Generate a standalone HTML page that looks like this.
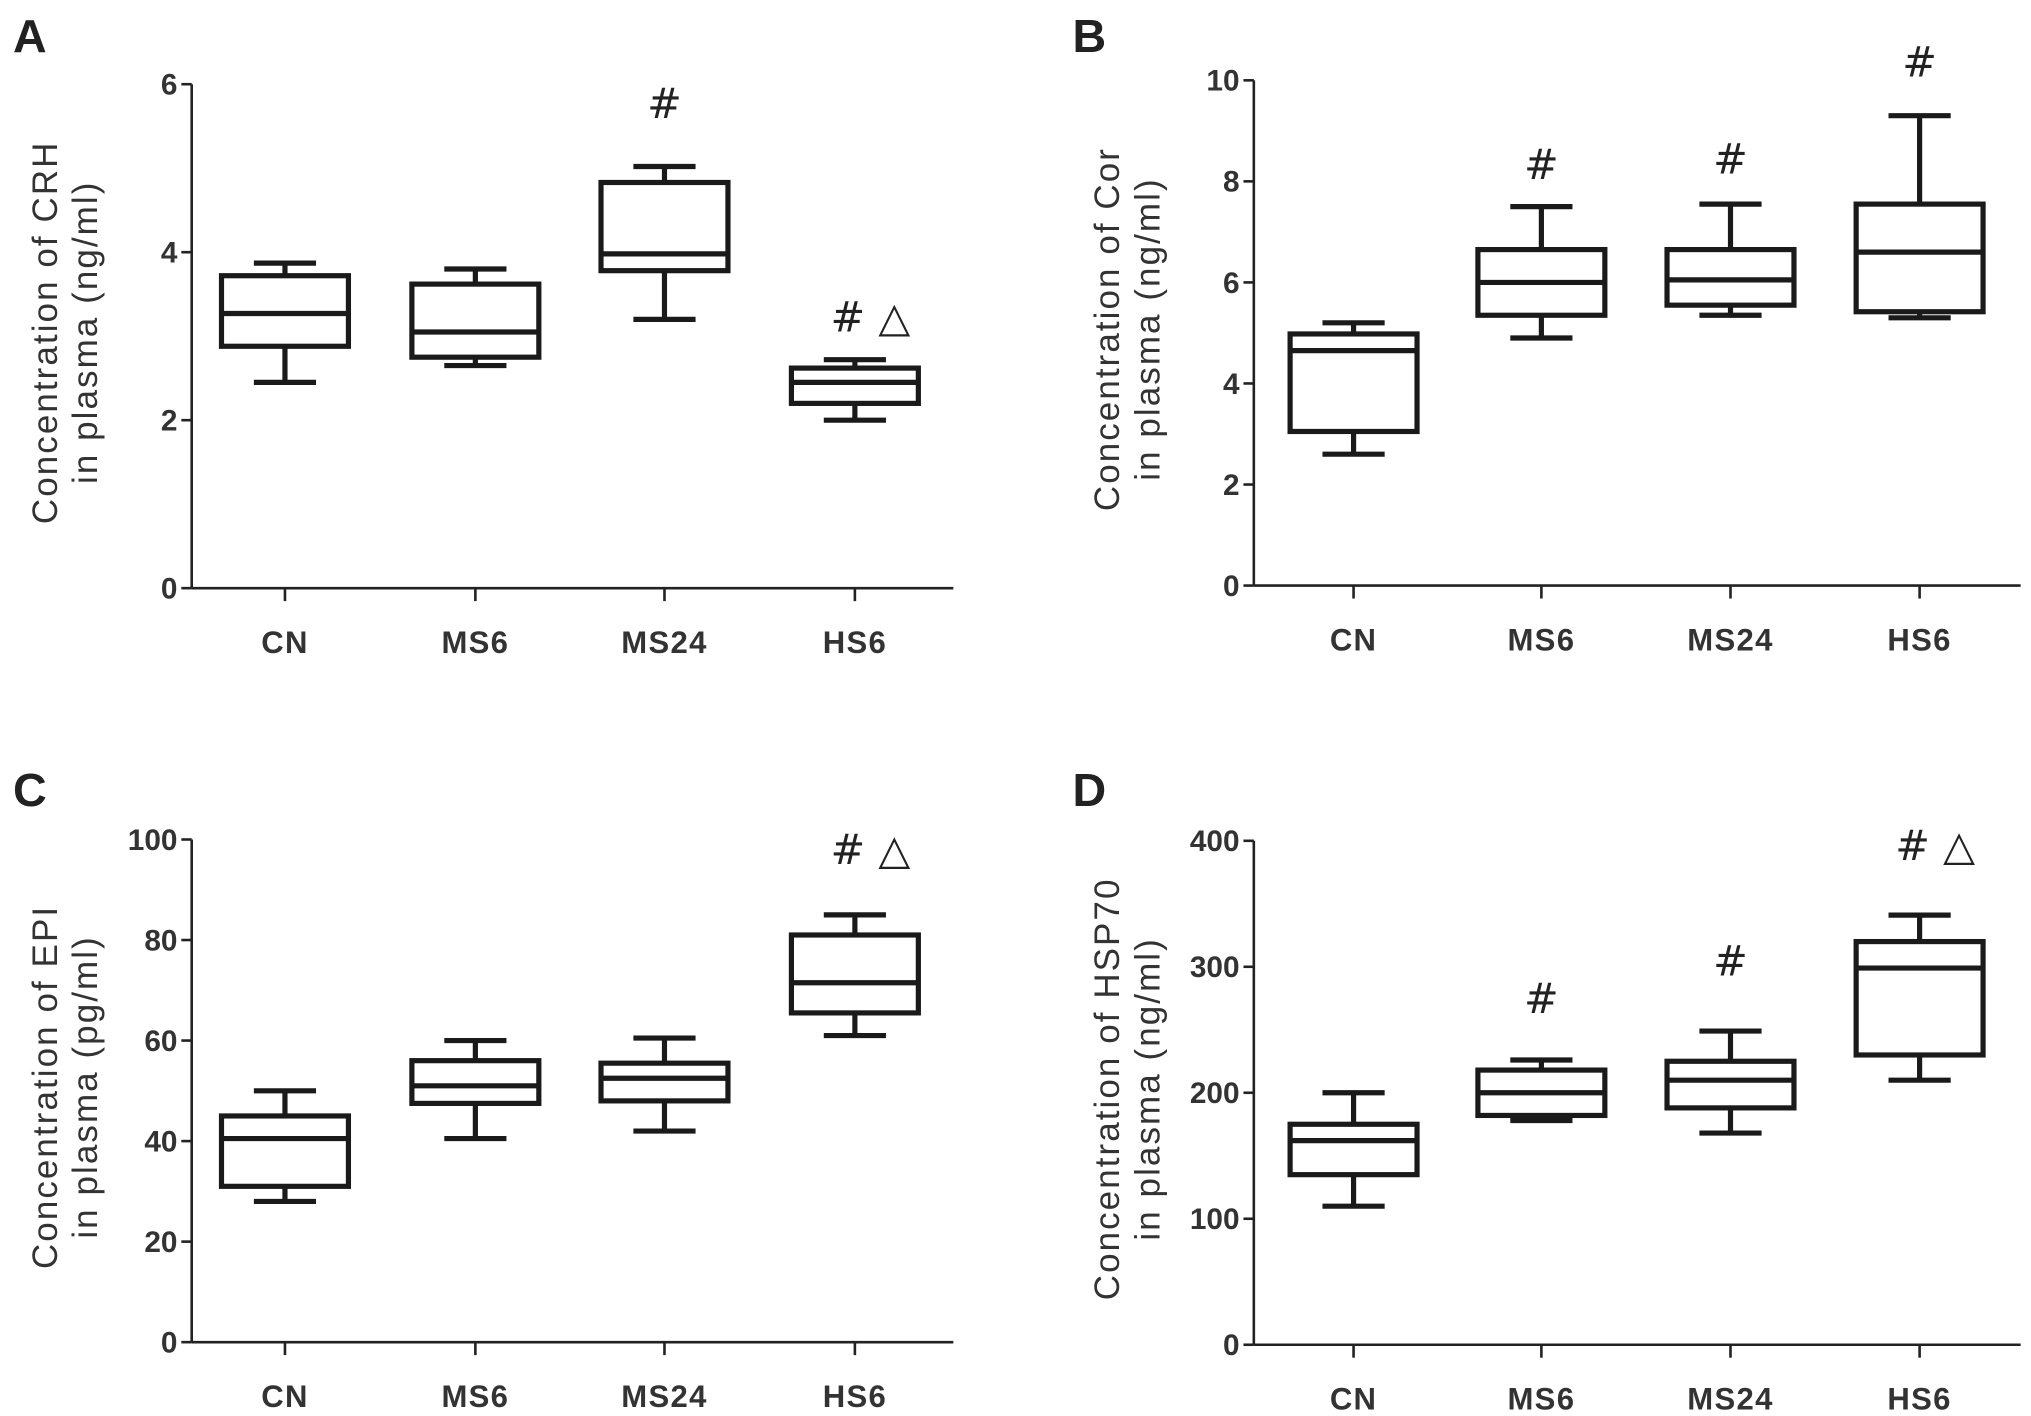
<!DOCTYPE html>
<html><head><meta charset="utf-8"><style>
html,body{margin:0;padding:0;background:#fff;}
svg{display:block;font-family:"Liberation Sans",Arial,sans-serif;}
</style></head><body>
<svg id="fig" width="2031" height="1416" viewBox="0 0 1568 1093" preserveAspectRatio="none" xmlns="http://www.w3.org/2000/svg"></svg>
<script>
const categories = ["CN","MS6","MS24","HS6"];
// [whiskerLow, q1, median, q3, whiskerHigh]
const crhValues = [[2.45,2.88,3.27,3.72,3.87],[2.65,2.75,3.05,3.62,3.8],[3.2,3.78,3.98,4.83,5.02],[2.0,2.2,2.45,2.62,2.72]];
const corValues = [[2.6,3.05,4.65,4.98,5.2],[4.9,5.35,6.0,6.65,7.5],[5.35,5.55,6.05,6.65,7.55],[5.3,5.42,6.6,7.55,9.3]];
const epiValues = [[28,31,40.5,45,50],[40.5,47.5,51,56,60],[42,48,52.5,55.5,60.5],[61,65.5,71.5,81,85]];
const hspValues = [[110,135,162,175,200],[178,182,200,218,226],[168,188,210,225,249],[210,230,299,320,341]];
const crhTicks = [0,2,4,6];
const corTicks = [0,2,4,6,8,10];
const epiTicks = [0,20,40,60,80,100];
const hspTicks = [0,100,200,300,400];
const crhMarks = ["","","#","# △"];
const corMarks = ["","#","#","#"];
const epiMarks = ["","","","# △"];
const hspMarks = ["","#","#","# △"];

const NS="http://www.w3.org/2000/svg";
const svg=document.getElementById('fig');
function mk(tag,attrs,parent){const e=document.createElementNS(NS,tag);for(const k in attrs)e.setAttribute(k,attrs[k]);(parent||svg).appendChild(e);return e;}

const panels=[
 {id:'a',letter:'A',lx:10,ly:38,ax:148,y0:454,yTop:65,xEnd:736,cx:[220,367,513,660],vals:crhValues,ticks:crhTicks,marks:crhMarks,markY:[0,0,80,245],l1:'Concentration of CRH',l2:'in plasma (ng/ml)'},
 {id:'b',letter:'B',lx:828,ly:38,ax:968,y0:452,yTop:62,xEnd:1560,cx:[1045,1190,1336,1482],vals:corValues,ticks:corTicks,marks:corMarks,markY:[0,127,123,48],l1:'Concentration of Cor',l2:'in plasma (ng/ml)'},
 {id:'c',letter:'C',lx:10,ly:620,ax:148,y0:1036,yTop:648,xEnd:736,cx:[220,367,513,660],vals:epiValues,ticks:epiTicks,marks:epiMarks,markY:[0,0,0,656],l1:'Concentration of EPI',l2:'in plasma (pg/ml)'},
 {id:'d',letter:'D',lx:828,ly:620,ax:968,y0:1038,yTop:649,xEnd:1560,cx:[1045,1190,1336,1482],vals:hspValues,ticks:hspTicks,marks:hspMarks,markY:[0,771,742,653],l1:'Concentration of HSP70',l2:'in plasma (ng/ml)'}
];

panels.forEach(p=>{
 const g=mk('g',{});
 
 
 const maxT=p.ticks[p.ticks.length-1];
 const y=v=>p.y0-(v/maxT)*(p.y0-p.yTop);
 const lt=mk('text',{x:p.lx,y:p.ly+2,'font-size':36,'font-weight':'bold',fill:'#222'},g);
 lt.textContent=p.letter;
 
 
 const ya=mk('line',{x1:p.ax,y1:p.yTop,x2:p.ax,y2:p.y0,stroke:'#222','stroke-width':2},g);
 
 
 const xa=mk('line',{x1:p.ax,y1:p.y0,x2:p.xEnd,y2:p.y0,stroke:'#222','stroke-width':2},g);
 
 
 p.ticks.forEach(t=>{
  mk('line',{x1:p.ax-8,y1:y(t),x2:p.ax,y2:y(t),stroke:'#222','stroke-width':2},g);
  const tx=mk('text',{x:p.ax-11,y:y(t)+8,'font-size':23,'font-weight':'bold','text-anchor':'end',fill:'#333'},g);
  tx.textContent=t;
  
  
 });
 const yl=mk('text',{transform:`translate(${p.ax-104},${(p.y0+p.yTop)/2-3}) rotate(-90)`,'font-size':27,'letter-spacing':1.6,'text-anchor':'middle',fill:'#333'},g);
 
 
 const t1=mk('tspan',{x:0,dy:0},yl);t1.textContent=p.l1;
 const t2=mk('tspan',{x:0,dy:31},yl);t2.textContent=p.l2;
 categories.forEach((c,i)=>{
  const cx=p.cx[i];
  mk('line',{x1:cx,y1:p.y0,x2:cx,y2:p.y0+10,stroke:'#222','stroke-width':2},g);
  const xl=mk('text',{x:cx,y:p.y0+50,'font-size':24,'font-weight':'bold','letter-spacing':1,'text-anchor':'middle',fill:'#333'},g);
  xl.textContent=c;
  
  
  const v=p.vals[i];
  const bg=mk('g',{stroke:'#1a1a1a','stroke-width':4,fill:'none'},g);
  
  
  mk('line',{x1:cx,y1:y(v[0]),x2:cx,y2:y(v[1])},bg);
  mk('line',{x1:cx,y1:y(v[3]),x2:cx,y2:y(v[4])},bg);
  mk('line',{x1:cx-24,y1:y(v[0]),x2:cx+24,y2:y(v[0])},bg);
  mk('line',{x1:cx-24,y1:y(v[4]),x2:cx+24,y2:y(v[4])},bg);
  mk('rect',{x:cx-49,y:y(v[3]),width:98,height:y(v[1])-y(v[3]),fill:'#fff'},bg);
  mk('line',{x1:cx-49,y1:y(v[2]),x2:cx+49,y2:y(v[2])},bg);
  if(p.marks[i]){
   const m=mk('text',{x:cx+(p.marks[i].length>1?12:0),y:p.markY[i]+11,'font-size':32,'text-anchor':'middle',fill:'#222','font-family':'"DejaVu Sans","Liberation Sans",sans-serif'},g);
   m.textContent=p.marks[i];
   
   
  }
 });
});
</script>
</body></html>
